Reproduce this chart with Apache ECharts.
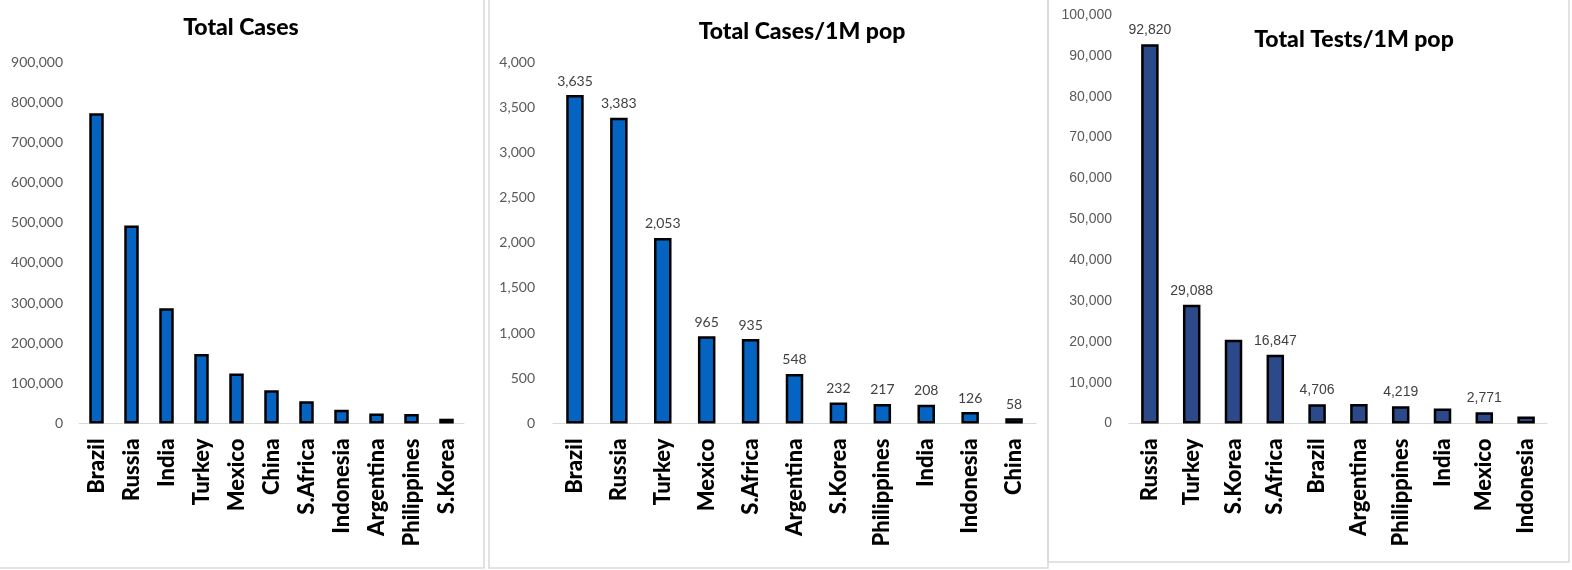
<!DOCTYPE html>
<html>
<head>
<meta charset="utf-8">
<script src="https://cdn.jsdelivr.net/npm/echarts@6/dist/echarts.min.js"></script>
<style>
html,body{margin:0;padding:0;background:#fff;}
#c{width:1572px;height:570px;}
</style>
</head>
<body>
<div id="c"></div>
<script>
// ---- data ----
const casesCats = ['Brazil','Russia','India','Turkey','Mexico','China','S.Africa','Indonesia','Argentina','Philippines','S.Korea'];
const casesVals = [772416, 493023, 287155, 173036, 124301, 83046, 55421, 34316, 24761, 23732, 11947];

const perMCats = ['Brazil','Russia','Turkey','Mexico','S.Africa','Argentina','S.Korea','Philippines','India','Indonesia','China'];
const perMVals = [3635, 3383, 2053, 965, 935, 548, 232, 217, 208, 126, 58];

const testsCats = ['Russia','Turkey','S.Korea','S.Africa','Brazil','Argentina','Philippines','India','Mexico','Indonesia'];
const testsVals = [92820, 29088, 20500, 16847, 4706, 4750, 4219, 3700, 2771, 1700];
const testsLabeled = [true, true, false, true, true, false, true, false, true, false];

const titles = ['Total Cases', 'Total Cases/1M pop', 'Total Tests/1M pop'];

// ---- styles ----
const blue = '#0563C1';
const navy = '#2C4A8A';
const fmt = v => Number(v).toLocaleString('en-US');
const catLabel = {
  rotate: 90, interval: 0, margin: 15,
  fontFamily: 'Lato', fontWeight: 900, fontSize: 22, color: '#000'
};
const titleStyle = {fontFamily: 'Lato', fontWeight: 900, fontSize: 23, color: '#000'};
const axisLine = {show: true, lineStyle: {color: '#D9D9D9', width: 1}};

const chart = echarts.init(document.getElementById('c'), null, {renderer: 'canvas'});
chart.setOption({
  animation: false,
  backgroundColor: '#fff',
  title: [
    {text: titles[0], left: 241, top: 16, textAlign: 'center', padding: 0, textStyle: titleStyle},
    {text: titles[1], left: 802, top: 20, textAlign: 'center', padding: 0, textStyle: titleStyle},
    {text: titles[2], left: 1354, top: 28, textAlign: 'center', padding: 0, textStyle: titleStyle}
  ],
  graphic: [
    {type: 'rect', shape: {x: -2, y: -2, width: 486, height: 570}, style: {fill: 'none', stroke: '#D9D9D9', lineWidth: 1.5}, silent: true, z: -1},
    {type: 'rect', shape: {x: 489, y: -2, width: 559, height: 570}, style: {fill: 'none', stroke: '#D9D9D9', lineWidth: 1.5}, silent: true, z: -1},
    {type: 'rect', shape: {x: 1048, y: -2, width: 521, height: 564}, style: {fill: 'none', stroke: '#D9D9D9', lineWidth: 1.5}, silent: true, z: -1}
  ],
  grid: [
    {left: 79, width: 385, top: 62, height: 361.5},
    {left: 553, width: 483, top: 62, height: 361.5},
    {left: 1129, width: 418, top: 15, height: 408.5}
  ],
  xAxis: [
    {type: 'category', gridIndex: 0, data: casesCats, axisLine, axisTick: {show: false}, axisLabel: catLabel},
    {type: 'category', gridIndex: 1, data: perMCats, axisLine, axisTick: {show: false}, axisLabel: catLabel},
    {type: 'category', gridIndex: 2, data: testsCats, axisLine, axisTick: {show: false}, axisLabel: catLabel}
  ],
  yAxis: [
    {type: 'value', gridIndex: 0, min: 0, max: 900000, interval: 100000, splitLine: {show: false},
     axisLine: {show: false}, axisTick: {show: false},
     axisLabel: {formatter: fmt, margin: 16, fontFamily: 'Lato', fontSize: 14, color: '#595959'}},
    {type: 'value', gridIndex: 1, min: 0, max: 4000, interval: 500, splitLine: {show: false},
     axisLine: {show: false}, axisTick: {show: false},
     axisLabel: {formatter: fmt, margin: 18, fontFamily: 'Lato', fontSize: 14, color: '#595959'}},
    {type: 'value', gridIndex: 2, min: 0, max: 100000, interval: 10000, splitLine: {show: false},
     axisLine: {show: false}, axisTick: {show: false},
     axisLabel: {formatter: fmt, margin: 17, fontFamily: 'Liberation Sans', fontSize: 14, color: '#595959'}}
  ],
  series: [
    {type: 'bar', xAxisIndex: 0, yAxisIndex: 0, data: casesVals, barWidth: 14.5,
     itemStyle: {color: blue, borderColor: '#000', borderWidth: 2.5}},
    {type: 'bar', xAxisIndex: 1, yAxisIndex: 1, data: perMVals, barWidth: 17.5,
     itemStyle: {color: blue, borderColor: '#000', borderWidth: 2.5},
     label: {show: true, position: 'top', distance: 7, formatter: p => fmt(p.value),
             fontFamily: 'Lato', fontSize: 14, color: '#404040'}},
    {type: 'bar', xAxisIndex: 2, yAxisIndex: 2, barWidth: 17.5,
     data: testsVals.map((v, i) => ({value: v, label: {show: testsLabeled[i]}})),
     itemStyle: {color: navy, borderColor: '#000', borderWidth: 2.5},
     label: {position: 'top', distance: 7, formatter: p => fmt(p.value),
             fontFamily: 'Liberation Sans', fontSize: 14, color: '#404040'}}
  ]
});
</script>
</body>
</html>
